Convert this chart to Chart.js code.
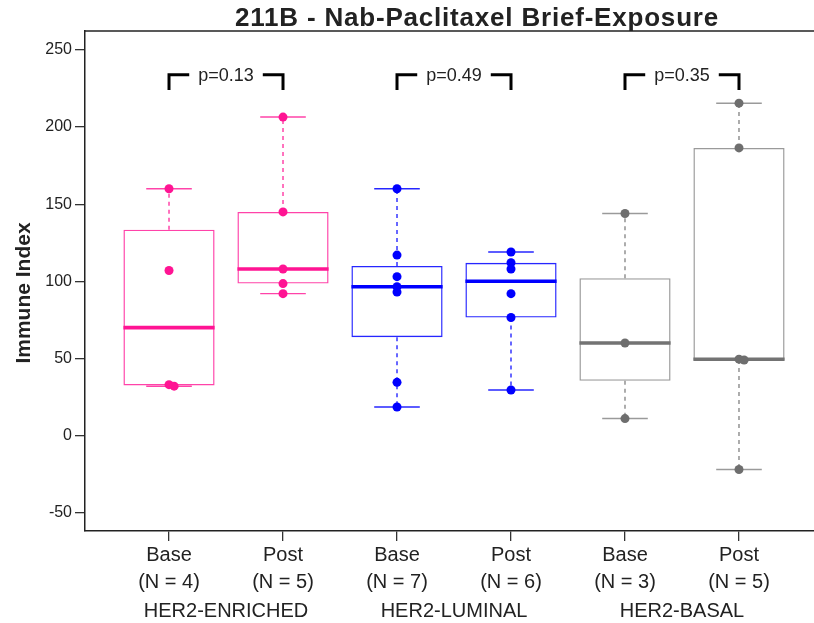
<!DOCTYPE html>
<html>
<head>
<meta charset="utf-8">
<script src="https://cdn.jsdelivr.net/npm/chart.js@4.4.1/dist/chart.umd.min.js"></script>
<style>
  html, body { margin: 0; padding: 0; background: #fff; overflow: hidden; }
  #wrap { width: 814px; height: 623px; }
</style>
</head>
<body>
<div id="wrap"><canvas id="boxChart"></canvas></div>
<script>
// data
const chartTitle = '211B - Nab-Paclitaxel Brief-Exposure';
const yTitle = 'Immune Index';
const timepoints = ['Base', 'Post', 'Base', 'Post', 'Base', 'Post'];
const subtypes = ['HER2-ENRICHED', 'HER2-LUMINAL', 'HER2-BASAL'];
const enrichedBase = [160, 107, 33, 32];
const enrichedPost = [206.5, 145, 108, 98.5, 92];
const luminalBase = [160, 117, 103, 96.5, 93, 34.5, 18.5];
const luminalPost = [119, 112, 108, 92, 76.5, 29.5];
const basalBase = [144, 60, 11];
const basalPost = [215.5, 186.5, 49.5, 49, -22];
const pValues = ['p=0.13', 'p=0.49', 'p=0.35'];
const yTicks = [-50, 0, 50, 100, 150, 200, 250];

const groups = [enrichedBase, enrichedPost, luminalBase, luminalPost, basalBase, basalPost];

// styling
const pointColors = ['#FF1493', '#0000FF', '#6E6E6E'];
const lineColors = ['rgba(255,20,147,0.8)', 'rgba(0,0,255,0.85)', '#9A9A9A'];
const medianColors = ['#FF1493', '#0000FF', '#737373'];
const whiskerColors = ['rgba(255,20,147,0.85)', 'rgba(0,0,255,0.85)', '#8A8A8A'];
const FONT = "'Liberation Sans', Arial, sans-serif";
const X_MIN = -0.737, X_MAX = 5.658;
const Y_MIN = -61.9, Y_MAX = 262.3;
const BRACKET_LOW = 224, BRACKET_HIGH = 234;

// Tukey five-number summary (same as R fivenum / boxplot hinges)
function fivenum(v) {
    const s = [...v].sort((a, b) => a - b);
    const n = s.length;
    const n4 = Math.floor((n + 3) / 2) / 2;
    const d = [1, n4, (n + 1) / 2, n + 1 - n4, n];
    return d.map(x => 0.5 * (s[Math.floor(x) - 1] + s[Math.ceil(x) - 1]));
}

const stats = groups.map(g => {
    const f = fivenum(g);
    const iqr = f[3] - f[1];
    const inside = g.filter(v => v >= f[1] - 1.5 * iqr && v <= f[3] + 1.5 * iqr);
    return { q1: f[1], med: f[2], q3: f[3], lo: Math.min(...inside), hi: Math.max(...inside) };
});

const datasets = [];

// boxes as floating bars
datasets.push({
    type: 'bar',
    data: stats.map((s, i) => ({ x: i, y: [s.q1, s.q3] })),
    backgroundColor: 'rgba(255,255,255,0)',
    borderColor: stats.map((s, i) => lineColors[Math.floor(i / 2)]),
    borderWidth: 1.4,
    borderSkipped: false,
    barPercentage: 0.8,
    categoryPercentage: 1,
    order: 10
});

subtypes.forEach((st, k) => {
    const whisk = [], caps = [], meds = [], pts = [];
    [2 * k, 2 * k + 1].forEach(i => {
        const s = stats[i];
        whisk.push({ x: i, y: s.q3 }, { x: i, y: s.hi }, { x: i, y: null },
                   { x: i, y: s.q1 }, { x: i, y: s.lo }, { x: i, y: null });
        caps.push({ x: i - 0.2, y: s.hi }, { x: i + 0.2, y: s.hi }, { x: i, y: null },
                  { x: i - 0.2, y: s.lo }, { x: i + 0.2, y: s.lo }, { x: i, y: null });
        meds.push({ x: i - 0.4, y: s.med }, { x: i + 0.4, y: s.med }, { x: i, y: null });
        // nudge points that sit on top of each other
        const placed = [];
        groups[i].forEach(v => {
            let dx = 0;
            while (placed.some(p => Math.abs(p.y - v) < 2 && Math.abs(p.x - (i + dx)) < 0.03)) dx += 0.045;
            placed.push({ x: i + dx, y: v });
        });
        pts.push(...placed);
    });
    datasets.push({
        type: 'line', data: whisk, borderColor: whiskerColors[k], borderWidth: 1.4,
        borderDash: [4, 4], pointRadius: 0, spanGaps: false, order: 6
    });
    datasets.push({
        type: 'line', data: caps, borderColor: lineColors[k], borderWidth: 1.4,
        pointRadius: 0, spanGaps: false, order: 5
    });
    datasets.push({
        type: 'line', data: meds, borderColor: medianColors[k], borderWidth: 3.6,
        pointRadius: 0, spanGaps: false, order: 4
    });
    datasets.push({
        type: 'scatter', data: pts, backgroundColor: pointColors[k], borderWidth: 0,
        pointRadius: 4.5, order: 1
    });
});

// title, y title, top frame and p-value brackets
const decorations = {
    id: 'decorations',
    afterDatasetsDraw(chart) {
        const { ctx, chartArea, scales } = chart;
        ctx.save();
        ctx.strokeStyle = '#222';
        ctx.lineWidth = 1.5;
        ctx.beginPath();
        ctx.moveTo(chartArea.left, chartArea.top);
        ctx.lineTo(chartArea.right, chartArea.top);
        ctx.stroke();

        ctx.font = '18px ' + FONT;
        ctx.textAlign = 'center';
        ctx.textBaseline = 'middle';
        pValues.forEach((p, k) => {
            const x0 = scales.x.getPixelForValue(2 * k);
            const x1 = scales.x.getPixelForValue(2 * k + 1);
            const yTop = scales.y.getPixelForValue(BRACKET_HIGH);
            const yBot = scales.y.getPixelForValue(BRACKET_LOW);
            const mid = (x0 + x1) / 2;
            const half = ctx.measureText(p).width / 2 + 9;
            ctx.strokeStyle = '#000';
            ctx.lineWidth = 3;
            ctx.lineCap = 'butt';
            ctx.lineJoin = 'miter';
            ctx.beginPath();
            ctx.moveTo(x0, yBot); ctx.lineTo(x0, yTop); ctx.lineTo(mid - half, yTop);
            ctx.moveTo(mid + half, yTop); ctx.lineTo(x1, yTop); ctx.lineTo(x1, yBot);
            ctx.stroke();
            ctx.fillStyle = '#222';
            ctx.fillText(p, mid, yTop + 1);
        });

        ctx.fillStyle = '#222';
        ctx.font = 'bold 26px ' + FONT;
        ctx.textBaseline = 'alphabetic';
        ctx.letterSpacing = '0.8px';
        ctx.fillText(chartTitle, 477, 26);
        ctx.letterSpacing = '0px';

        ctx.translate(24, 293);
        ctx.rotate(-Math.PI / 2);
        ctx.font = 'bold 21px ' + FONT;
        ctx.textBaseline = 'middle';
        ctx.fillText(yTitle, 0, 0);
        ctx.restore();
    }
};

Chart.defaults.font.family = FONT;
Chart.defaults.color = '#222';

new Chart(document.getElementById('boxChart'), {
    type: 'scatter',
    data: { datasets },
    options: {
        responsive: true,
        maintainAspectRatio: false,
        animation: false,
        events: [],
        layout: { autoPadding: false, padding: { top: 31, left: 0, right: 0, bottom: 0 } },
        plugins: { legend: { display: false }, tooltip: { enabled: false }, title: { display: false } },
        scales: {
            x: {
                type: 'linear', position: 'bottom', min: X_MIN, max: X_MAX, offset: false, weight: 0,
                afterBuildTicks: s => { s.ticks = timepoints.map((t, i) => ({ value: i })); },
                afterFit: s => { s.height = 62; },
                ticks: {
                    callback: v => [timepoints[v], '(N = ' + groups[v].length + ')'],
                    font: { size: 20, lineHeight: 1.35 }, color: '#222', padding: 1,
                    autoSkip: false, maxRotation: 0
                },
                grid: { drawOnChartArea: false, offset: false, tickLength: 10, color: '#333', lineWidth: 1.3 },
                border: { color: '#222', width: 1.5 }
            },
            x2: {
                type: 'linear', position: 'bottom', min: X_MIN, max: X_MAX, offset: false, weight: 1,
                afterBuildTicks: s => { s.ticks = subtypes.map((t, k) => ({ value: 2 * k + 0.5 })); },
                afterFit: s => { s.height = 30; },
                ticks: {
                    callback: (v, i) => subtypes[i],
                    font: { size: 20 }, color: '#222', padding: 6, autoSkip: false, maxRotation: 0
                },
                grid: { display: false, drawTicks: false },
                border: { display: false }
            },
            y: {
                type: 'linear', min: Y_MIN, max: Y_MAX,
                afterBuildTicks: s => { s.ticks = yTicks.map(v => ({ value: v })); },
                afterFit: s => { s.width = 85; },
                ticks: { font: { size: 16 }, color: '#222', padding: 3 },
                grid: { drawOnChartArea: false, tickLength: 10, color: '#333', lineWidth: 1.3 },
                border: { color: '#222', width: 1.5 }
            }
        }
    },
    plugins: [decorations]
});
</script>
</body>
</html>
